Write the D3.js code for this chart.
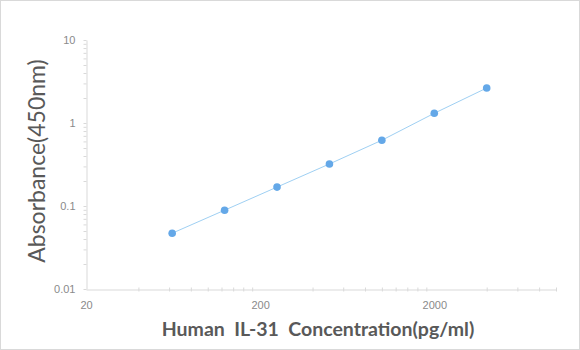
<!DOCTYPE html>
<html lang="en">
<head>
  <meta charset="UTF-8">
  <title>Human IL-31 standard curve</title>
  <script src="https://d3js.org/d3.v7.min.js"></script>
  <style>
    body { margin: 0; background: #fff; }
    svg { display: block; font-family: Lato, "Open Sans", sans-serif; }
    .tick text { fill: #8a8a8a; font-size: 11px; }
  </style>
</head>
<body>
<script>
  // standard curve: concentration (pg/ml) vs OD at 450nm
  const concentration = [62.5, 125, 250, 500, 1000, 2000, 4000];
  const absorbance = [0.047, 0.089, 0.169, 0.321, 0.62, 1.31, 2.64];

  const xTicks = [20, 200, 2000];
  const yTicks = [0.01, 0.1, 1, 10];
  const xMinor = [40, 60, 80, 100, 120, 140, 160, 180, 400, 600, 800, 1000, 1200, 1400, 1600, 1800, 4000, 6000, 8000, 10000];
  const yMinor = [0.02, 0.03, 0.04, 0.05, 0.06, 0.07, 0.08, 0.09, 0.2, 0.3, 0.4, 0.5, 0.6, 0.7, 0.8, 0.9, 2, 3, 4, 5, 6, 7, 8, 9];

  const svgWidth = 580;
  const svgHeight = 350;
  const margin = { top: 40, right: 24, bottom: 61, left: 86 };

  const svg = d3.select('body').append('svg')
    .attr('width', svgWidth)
    .attr('height', svgHeight);

  // chart area border
  svg.append('rect')
    .attr('x', 0.5).attr('y', 0.5)
    .attr('width', svgWidth - 1).attr('height', svgHeight - 1)
    .attr('fill', '#fff')
    .attr('stroke', '#d9d9d9');

  const xScale = d3.scaleLog().domain([20, 10000]).range([margin.left, svgWidth - margin.right]);
  const yScale = d3.scaleLog().domain([0.01, 10]).range([svgHeight - margin.bottom, margin.top]);

  const axisColor = '#d9d9d9';
  const x0 = margin.left + 0.5;
  const y0 = svgHeight - margin.bottom + 0.5;

  // minor ticks (crossing the axis lines)
  svg.append('g')
    .attr('transform', 'translate(0,' + (y0 - 2) + ')')
    .call(d3.axisBottom(xScale).tickValues(xMinor).tickSize(4).tickFormat(''))
    .call(g => g.select('.domain').remove())
    .call(g => g.selectAll('line').attr('stroke', axisColor));

  svg.append('g')
    .attr('transform', 'translate(' + x0 + ',0)')
    .call(d3.axisLeft(yScale).tickValues(yMinor).tickSize(3).tickFormat(''))
    .call(g => g.select('.domain').remove())
    .call(g => g.selectAll('line').attr('stroke', axisColor));

  // major axes
  svg.append('g')
    .attr('transform', 'translate(0,' + y0 + ')')
    .call(d3.axisBottom(xScale).tickValues(xTicks).tickSize(0).tickPadding(12).tickFormat(d3.format('d')))
    .call(g => g.select('.domain').attr('stroke', axisColor))
    .call(g => g.selectAll('text').attr('font-family', null).attr('font-size', null));

  svg.append('g')
    .attr('transform', 'translate(' + x0 + ',0)')
    .call(d3.axisLeft(yScale).tickValues(yTicks).tickSizeInner(3).tickSizeOuter(0).tickPadding(8).tickFormat(d => String(d)))
    .call(g => g.select('.domain').attr('stroke', axisColor))
    .call(g => g.selectAll('line').attr('stroke', axisColor))
    .call(g => g.selectAll('text').attr('font-family', null).attr('font-size', null));

  // line + markers
  const pts = concentration.map((c, i) => [c, absorbance[i]]);

  svg.append('path')
    .datum(pts)
    .attr('fill', 'none')
    .attr('stroke', '#9fd0f3')
    .attr('stroke-width', 1)
    .attr('d', d3.line().x(d => xScale(d[0])).y(d => yScale(d[1])));

  svg.selectAll('.dot')
    .data(pts)
    .enter().append('circle')
    .attr('class', 'dot')
    .attr('cx', d => xScale(d[0]))
    .attr('cy', d => yScale(d[1]))
    .attr('r', 3.8)
    .attr('fill', '#64a8e8');

  // axis titles
  svg.append('text')
    .attr('transform', 'translate(45,161) rotate(-90)')
    .attr('text-anchor', 'middle')
    .attr('fill', '#595959')
    .style('font-size', '23px')
    .text('Absorbance(450nm)');

  svg.append('text')
    .attr('x', 318)
    .attr('y', 336)
    .attr('text-anchor', 'middle')
    .attr('fill', '#595959')
    .style('font-size', '19.5px')
    .style('font-weight', 'bold')
    .style('white-space', 'pre')
    .text('Human  IL-31  Concentration(pg/ml)');
</script>
</body>
</html>
